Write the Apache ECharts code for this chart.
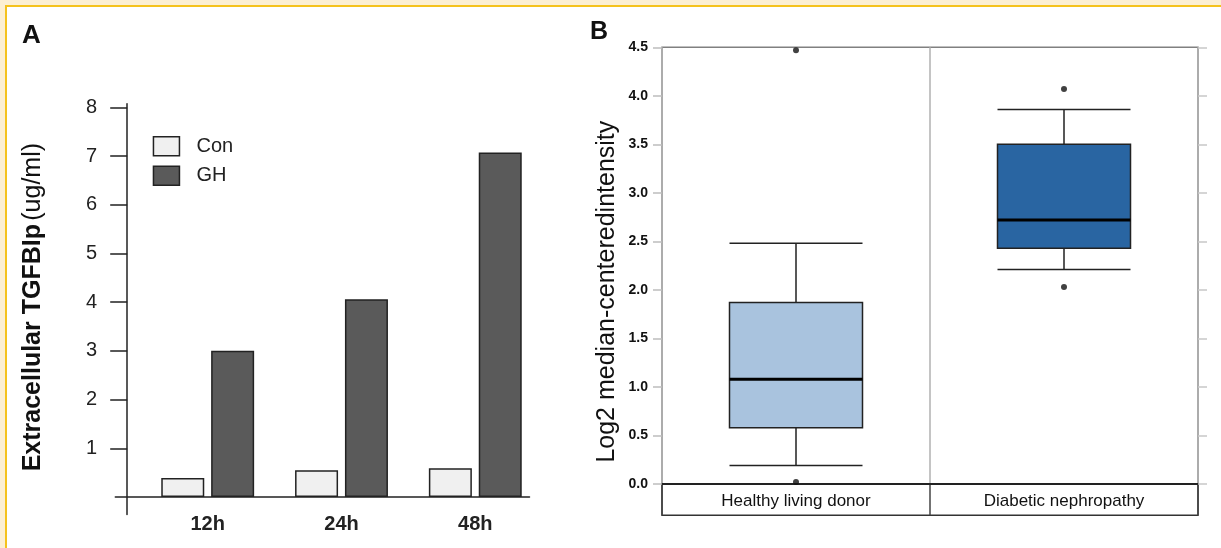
<!DOCTYPE html>
<html>
<head>
<meta charset="utf-8">
<script src="https://cdn.jsdelivr.net/npm/echarts@6/dist/echarts.min.js"></script>
<style>
  html, body { margin:0; padding:0; width:1221px; height:548px; overflow:hidden; background:#fcefd2; }
  #frame { position:absolute; left:5px; top:5px; width:1240px; height:560px; background:#ffffff; border-left:2.5px solid #f5c21c; border-top:2.5px solid #f5c21c; }
  #chart { position:absolute; left:0; top:0; width:1221px; height:548px; }
</style>
</head>
<body>
<div id="frame"></div>
<div id="chart"></div>
<script>
// ---- Panel A data ----
const timePoints = ['12h', '24h', '48h'];
const conValues = [0.39, 0.55, 0.59];
const ghValues = [3.0, 4.06, 7.07];
const yTicksA = [1, 2, 3, 4, 5, 6, 7, 8];

// ---- Panel B data ----
const groupsB = ['Healthy living donor', 'Diabetic nephropathy'];
// [lower whisker, Q1, median, Q3, upper whisker]
const healthyBox = [0.19, 0.58, 1.08, 1.87, 2.48];
const diabeticBox = [2.21, 2.43, 2.72, 3.50, 3.86];
const healthyOutliers = [4.47, 0.02];
const diabeticOutliers = [4.07, 2.03];

const boxColors = ['#a9c3de', '#2965a2'];
const FONT = "'Liberation Sans', Arial, sans-serif";
const NARROW = "'Liberation Sans Narrow', 'Arial Narrow', 'Liberation Sans', sans-serif";

const boxes = [healthyBox, diabeticBox];
const outliers = [];
[healthyOutliers, diabeticOutliers].forEach((arr, i) => arr.forEach(v => outliers.push([i, v])));

const chart = echarts.init(document.getElementById('chart'), null, { renderer: 'canvas' });

const option = {
  animation: false,
  backgroundColor: 'transparent',
  title: [
    { text: 'A', left: 22, top: 23, padding: 0, textStyle: { fontSize: 26, fontWeight: 'bold', color: '#111', fontFamily: FONT } },
    { text: 'B', left: 590, top: 20, padding: 0, textStyle: { fontSize: 25, fontWeight: 'bold', color: '#111', fontFamily: FONT } }
  ],
  legend: {
    data: ['Con', 'GH'],
    orient: 'vertical',
    left: 152.7, top: 136,
    padding: 0,
    itemWidth: 26, itemHeight: 19, itemGap: 9,
    icon: 'rect',
    itemStyle: { borderColor: '#222', borderWidth: 1.5 },
    textStyle: { fontSize: 20, color: '#222', fontFamily: FONT, padding: [0, 0, 0, 12] }
  },
  grid: [
    { left: 140.8, right: 678.8, top: 107.3, bottom: 51 },           // 0 A data
    { left: 127.2, width: 1, top: 103.8, bottom: 33.5 },              // 1 A y-line
    { left: 115.3, right: 691.5, top: 107.3, bottom: 51 },            // 2 A x-line
    { left: 662, right: 23, top: 47.3, bottom: 64, show: true, borderColor: '#808080', borderWidth: 1.5 }, // 3 B data
    { left: 662, right: 23, top: 484, bottom: 32.7, show: true, borderColor: '#333', borderWidth: 1.5 }    // 4 B strip
  ],
  xAxis: [
    { gridIndex: 0, type: 'category', data: timePoints,
      axisLine: { show: false }, axisTick: { show: false },
      axisLabel: { fontSize: 20, fontWeight: 'bold', color: '#222', margin: 17, fontFamily: FONT } },
    { gridIndex: 1, type: 'value', show: false },
    { gridIndex: 2, type: 'value', min: 0, max: 1,
      axisLine: { show: true, onZero: false, lineStyle: { color: '#222', width: 1.5 } },
      axisTick: { show: false }, axisLabel: { show: false }, splitLine: { show: false } },
    { gridIndex: 3, type: 'category', data: groupsB,
      axisLine: { show: true, onZero: false, lineStyle: { color: '#222', width: 2.2 } },
      axisTick: { show: false },
      axisLabel: { fontSize: 17, color: '#111', margin: 9, fontFamily: NARROW },
      splitLine: { show: true, lineStyle: { color: '#b0b0b0', width: 1.5 } } },
    { gridIndex: 4, type: 'category', data: groupsB,
      axisLine: { show: false }, axisTick: { show: false }, axisLabel: { show: false },
      splitLine: { show: true, lineStyle: { color: '#444', width: 1.5 } } }
  ],
  yAxis: [
    { gridIndex: 0, type: 'value', min: 0, max: 8, interval: 1, offset: 13.6,
      axisLine: { show: false },
      axisTick: { show: true, length: 17, customValues: yTicksA, lineStyle: { color: '#222', width: 1.5 } },
      axisLabel: { fontSize: 20, color: '#222', margin: 30, fontFamily: FONT, customValues: yTicksA,
                   formatter: v => (v === 0 ? '' : String(v)) },
      splitLine: { show: false },
      name: '{b|Extracellular TGFBIp} {n|(ug/ml)}',
      nameLocation: 'middle', nameRotate: 90, nameGap: 82,
      nameTextStyle: { padding: [0, 10, 0, 0], rich: {
        b: { fontSize: 25, fontWeight: 'bold', color: '#111', fontFamily: FONT },
        n: { fontSize: 25, fontWeight: 'normal', color: '#111', fontFamily: FONT } } } },
    { gridIndex: 1, type: 'value', min: 0, max: 1,
      axisLine: { show: true, onZero: false, lineStyle: { color: '#222', width: 1.5 } },
      axisTick: { show: false }, axisLabel: { show: false }, splitLine: { show: false } },
    { gridIndex: 2, type: 'value', show: false },
    { gridIndex: 3, type: 'value', min: 0, max: 4.5, interval: 0.5,
      axisLine: { show: false },
      axisTick: { show: true, length: 9, lineStyle: { color: '#bdbdbd', width: 1.5 } },
      axisLabel: { fontSize: 14, fontWeight: 'bold', color: '#111', margin: 14, fontFamily: FONT,
                   formatter: v => v.toFixed(1) },
      splitLine: { show: false },
      name: 'Log2 median-centeredintensity',
      nameLocation: 'middle', nameRotate: 90, nameGap: 42,
      nameTextStyle: { fontSize: 25, color: '#111', fontFamily: FONT, padding: [0, 52, 0, 0] } },
    { gridIndex: 3, type: 'value', position: 'right', min: 0, max: 4.5, interval: 0.5,
      axisLine: { show: false },
      axisTick: { show: true, length: 9, lineStyle: { color: '#c8c8c8', width: 1.5 } },
      axisLabel: { show: false }, splitLine: { show: false } },
    { gridIndex: 4, type: 'value', show: false }
  ],
  series: [
    { name: 'Con', type: 'bar', xAxisIndex: 0, yAxisIndex: 0, data: conValues,
      barWidth: 43, barGap: '16%',
      itemStyle: { color: '#f0f0f0', borderColor: '#222', borderWidth: 1.5 } },
    { name: 'GH', type: 'bar', xAxisIndex: 0, yAxisIndex: 0, data: ghValues,
      barWidth: 43, barGap: '16%',
      itemStyle: { color: '#5a5a5a', borderColor: '#222', borderWidth: 1.5 } },
    { name: 'box', type: 'boxplot', xAxisIndex: 3, yAxisIndex: 3,
      boxWidth: [133, 133],
      data: boxes.map((b, i) => ({ value: b, itemStyle: { color: boxColors[i] } })),
      itemStyle: { borderColor: '#222', borderWidth: 1.5 } },
    { name: 'median', type: 'custom', xAxisIndex: 3, yAxisIndex: 3,
      data: boxes.map((b, i) => [i, b[2]]),
      renderItem: function (params, api) {
        const p = api.coord([api.value(0), api.value(1)]);
        const half = 133 / 2;
        return { type: 'line', shape: { x1: p[0] - half, y1: p[1], x2: p[0] + half, y2: p[1] },
                 style: { stroke: '#000', lineWidth: 3 } };
      }, z: 5 },
    { name: 'outliers', type: 'scatter', xAxisIndex: 3, yAxisIndex: 3,
      data: outliers, symbolSize: 6, itemStyle: { color: '#111' }, z: 6 }
  ]
};
chart.setOption(option);
</script>
</body>
</html>
